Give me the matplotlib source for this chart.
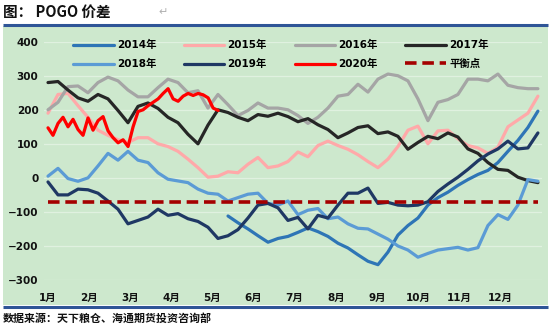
import numpy as np
import matplotlib
matplotlib.use("Agg")
import matplotlib.pyplot as plt
from matplotlib.patches import Rectangle
from matplotlib.lines import Line2D

plt.rcParams['font.family'] = ['DejaVu Sans', 'Noto Sans CJK SC']

# ---- data -------------------------------------------------------------
month_labels = ['1月', '2月', '3月', '4月', '5月', '6月', '7月', '8月', '9月',
                '10月', '11月', '12月']

# roughly weekly readings across the year (month index 0 .. 11.92)
year_end = 11.92

v2015 = [190, 245, 248, 212, 178, 140, 125, 112, 104, 118,
         118, 100, 92, 78, 55, 30, 2, 5, 18, 15,
         40, 60, 30, 35, 48, 76, 62, 95, 108, 95,
         84, 68, 48, 30, 55, 92, 140, 152, 100, 138,
         140, 115, 95, 88, 72, 90, 150, 170, 190, 240]

v2016 = [200, 222, 268, 270, 250, 280, 296, 285, 258, 238,
         238, 265, 290, 280, 250, 256, 205, 245, 215, 183,
         198, 220, 205, 205, 200, 183, 160, 178, 205, 240,
         245, 275, 252, 290, 305, 300, 285, 232, 168, 222,
         230, 245, 290, 290, 285, 305, 272, 265, 262, 262]

v2017 = [280, 283, 258, 235, 225, 245, 232, 198, 162, 210,
         220, 204, 178, 162, 128, 100, 155, 200, 192, 178,
         168, 186, 181, 190, 180, 165, 174, 156, 142, 118,
         132, 148, 153, 130, 135, 122, 84, 104, 122, 115,
         132, 120, 85, 72, 45, 25, 22, 2, -8, -14]

v2018 = [5, 28, -2, -10, 0, 35, 72, 52, 78, 52,
         45, 15, -4, -9, -14, -33, -45, -48, -68, -58,
         -48, -45, -75, -80, -68, -108, -95, -90, -120, -115,
         -135, -148, -150, -165, -180, -200, -212, -233, -222, -212,
         -208, -204, -212, -205, -140, -108, -122, -80, -5, -10]

v2019 = [-12, -50, -50, -33, -35, -45, -68, -92, -135, -125,
         -115, -92, -110, -105, -120, -128, -145, -178, -170, -152,
         -118, -80, -75, -88, -125, -116, -150, -110, -118, -80,
         -45, -45, -30, -75, -72, -80, -82, -80, -70, -40,
         -18, 2, 25, 50, 70, 85, 108, 85, 88, 132]

# 2014 starts in mid May
start2014 = 4.38
v2014 = [-112, -132, -150, -170, -189, -178, -172, -160, -147, -158,
         -172, -192, -206, -226, -245, -255, -218, -168, -140, -118,
         -80, -58, -42, -22, -5, 10, 22, 45, 78, 110,
         148, 196]

# 2020 runs up to mid May (about every two trading days)
end2020 = 4.14
v2020 = [147, 125, 160, 178, 150, 172, 142, 125, 176, 140,
         168, 180, 138, 118, 103, 112, 92, 150, 195, 200,
         212, 222, 232, 248, 262, 232, 225, 240, 248, 242,
         248, 244, 235, 205, 198]

balance = -70

series = [
    ('2014年', start2014, year_end, v2014, '#2e75b6'),
    ('2015年', 0, year_end, v2015, '#ffa9a9'),
    ('2016年', 0, year_end, v2016, '#a5a5a5'),
    ('2017年', 0, year_end, v2017, '#262626'),
    ('2018年', 0, year_end, v2018, '#5b9bd5'),
    ('2019年', 0, year_end, v2019, '#1f3864'),
    ('2020年', 0, end2020, v2020, '#ff0000'),
]

# ---- figure -----------------------------------------------------------
W, H = 550, 328
fig = plt.figure(figsize=(W / 100, H / 100), dpi=100)
fig.patch.set_facecolor('white')

GREEN = '#cde8cd'
fig.patches.append(Rectangle((3 / W, 1 - 305 / H), 545 / W, 279 / H,
                             transform=fig.transFigure, facecolor=GREEN,
                             edgecolor='none', zorder=-10))
for yy in (25, 307):
    fig.add_artist(Line2D([3 / W, 548 / W], [1 - yy / H] * 2,
                          color='#2f5597', lw=2.2, solid_capstyle='butt'))

ax = fig.add_axes([44 / W, 1 - 280 / H, (542 - 44) / W, (280 - 41.7) / H])
ax.set_facecolor('none')
ax.set_zorder(5)
for s in ax.spines.values():
    s.set_visible(False)

handles = {}
for name, x0, x1, vals, col in series:
    x = np.linspace(x0, x1, len(vals))
    ln, = ax.plot(x, vals, color=col, lw=2.3, solid_joinstyle='round',
                  solid_capstyle='round', label=name)
    handles[name] = ln

bl, = ax.plot([0, year_end], [balance, balance], color='#a50000', lw=2.6,
              linestyle=(0, (3.2, 1.6)), label='平衡点')
handles['平衡点'] = bl

ax.set_xlim((44 - 48) / 41.1, (542 - 48) / 41.1)
ax.set_ylim(-300, 400)
ax.set_yticks(np.arange(-300, 401, 100))
ax.set_xticks(np.arange(12))
ax.set_xticklabels(month_labels)
ax.grid(axis='y', color='#e0f1e0', lw=0.9)
ax.set_axisbelow(True)
ax.tick_params(axis='both', length=0, labelsize=7.5, colors='#111111')
ax.tick_params(axis='y', pad=4)
ax.tick_params(axis='x', pad=9)
for lab in ax.get_yticklabels() + ax.get_xticklabels():
    lab.set_fontweight('bold')

order = ['2014年', '2018年', '2015年', '2019年', '2016年', '2020年',
         '2017年', '平衡点']
leg = ax.legend([handles[k] for k in order], order, ncol=4,
                loc='upper left', bbox_to_anchor=(73 / W, 1 - 40 / H),
                bbox_transform=fig.transFigure, frameon=False,
                prop=dict(weight='bold', size=7.5),
                handlelength=3.9, handletextpad=0.3, columnspacing=2.65,
                labelspacing=0.85, borderpad=0, borderaxespad=0)

fig.text(3 / W, 1 - 12 / H, '图： POGO 价差', family=['Noto Sans CJK SC'],
         weight='bold', size=10.5, va='center', ha='left', color='#111111')
fig.text(158 / W, 1 - 12 / H, '↵', size=8, va='center', ha='left',
         color='#b0b0b0')
fig.text(3 / W, 1 - 318 / H, '数据来源：天下粮仓、海通期货投资咨询部',
         family=['Noto Sans CJK SC'], weight='bold', size=7.9,
         va='center', ha='left', color='#111111')

fig.savefig('out.png', dpi=100)
